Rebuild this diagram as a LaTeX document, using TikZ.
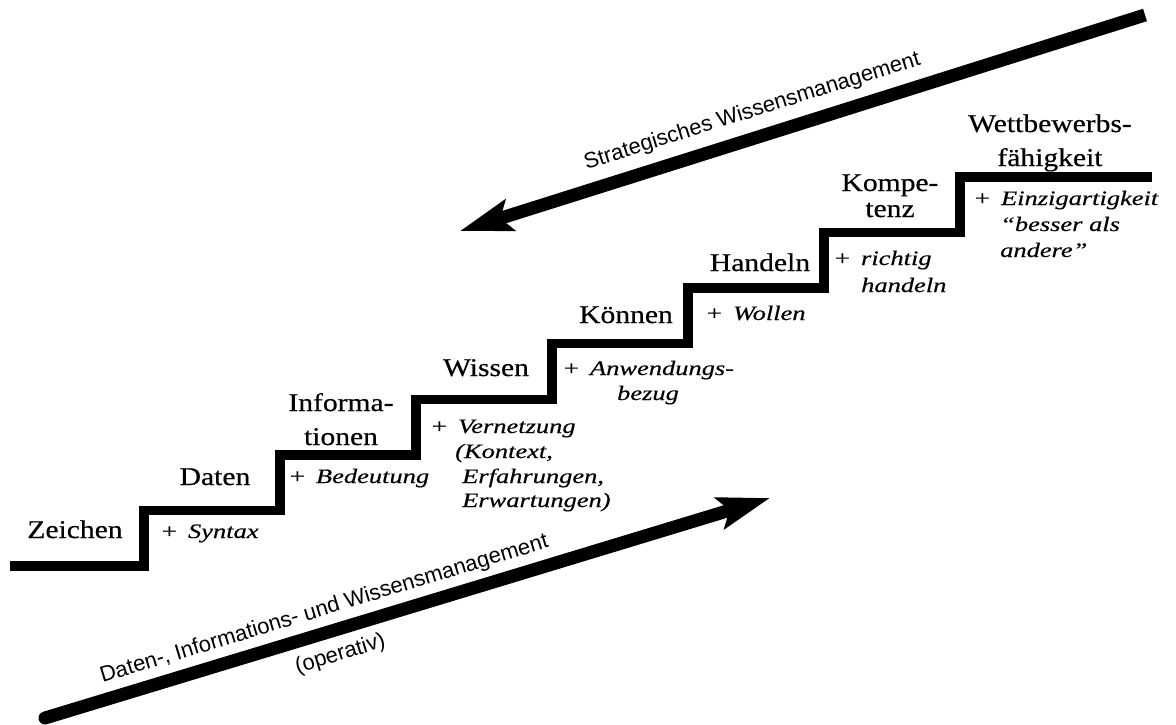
\documentclass[tikz,border=0pt]{standalone}
\usepackage{fontspec}
\usetikzlibrary{arrows.meta}
\newfontfamily\labfont{Liberation Serif}[FakeStretch=1.16, FakeBold=0.5]
\newfontfamily\notefont{Liberation Serif}[FakeStretch=1.29, FakeBold=0.4]
\newfontfamily\arrfont{Liberation Sans}
\tikzset{
  lab/.style={font=\labfont\fontsize{25.5}{30}\selectfont, inner sep=0pt, anchor=base},
  note/.style={font=\notefont\itshape\fontsize{20.5}{25}\selectfont, inner sep=0pt, anchor=base west},
  arrtext/.style={font=\arrfont\fontsize{22}{26}\selectfont, inner sep=0pt, anchor=base},
  stair/.style={line width=9.5pt, line join=miter, line cap=butt},
  bigarrow/.style={line width=13pt, -{Stealth[length=52pt,width=32pt,inset=10pt]}},
}
\begin{document}
\begin{tikzpicture}[x=1pt,y=-1pt]
\useasboundingbox (0,0) rectangle (1176,725);
% stair vertices
\coordinate (s0) at (10,566);
\coordinate (s1) at (144,510.4);
\coordinate (s2) at (280,454.9);
\coordinate (s3) at (416,399.3);
\coordinate (s4) at (552,343.7);
\coordinate (s5) at (688,288.1);
\coordinate (s6) at (824,232.6);
\coordinate (s7) at (960,177);
\coordinate (s8) at (1152,177);
\draw[stair] (s0) -| (s1) -| (s2) -| (s3) -| (s4) -| (s5) -| (s6) -| (s7) -- (s8);
% arrows
\coordinate (opTail) at (45,718);
\coordinate (opTip) at (770,498);
\draw[bigarrow, line cap=round] (opTail) -- (opTip);
\coordinate (stStart) at (1145,15);
\coordinate (stTip) at (460,231);
\draw[bigarrow] (stStart) -- (stTip);
% arrow texts
\node[arrtext, rotate=17.4] (stlab) at (754,117) {Strategisches Wissensmanagement};
\node[arrtext, rotate=16.9] (oplab) at (326,615) {Daten-, Informations- und Wissensmanagement};
\node[arrtext, rotate=16.9] (opsub) at (342,660) {(operativ)};
% step labels
\node[lab] (zeichen) at (75,538) {Zeichen};
\node[lab] (daten) at (215,485) {Daten};
\node[lab] (info1) at (341,411) {Informa-};
\node[lab] (info2) at (341,445) {tionen};
\node[lab] (wissen) at (486,376) {Wissen};
\node[lab] (koennen) at (626,323) {Können};
\node[lab] (handeln) at (760,271) {Handeln};
\node[lab] (komp1) at (890,191) {Kompe-};
\node[lab] (komp2) at (890,217) {tenz};
\node[lab] (wett1) at (1050,132) {Wettbewerbs-};
\node[lab] (wett2) at (1050,166) {fähigkeit};
% additions
\node[note] (syntax) at (160,538) {+\hspace{10pt}Syntax};
\node[note] (bedeutung) at (288,483) {+\hspace{10pt}Bedeutung};
\node[note] (vern1) at (430,433) {+\hspace{10pt}Vernetzung};
\node[note] (vern2) at (455,458) {(Kontext,};
\node[note] (vern3) at (462,483) {Erfahrungen,};
\node[note] (vern4) at (462,507) {Erwartungen)};
\node[note] (anw1) at (562,375) {+\hspace{10pt}Anwendungs-};
\node[note, anchor=base] (anw2) at (648,400) {bezug};
\node[note] (wollen) at (705,320) {+\hspace{10pt}Wollen};
\node[note] (richtig1) at (833,265) {+\hspace{10pt}richtig};
\node[note] (richtig2) at (861,292) {handeln};
\node[note] (einz1) at (973,205) {+\hspace{10pt}Einzigartigkeit};
\node[note] (einz2) at (1000,231) {“besser als};
\node[note] (einz3) at (1000,257) {andere”};
\end{tikzpicture}
\end{document}
